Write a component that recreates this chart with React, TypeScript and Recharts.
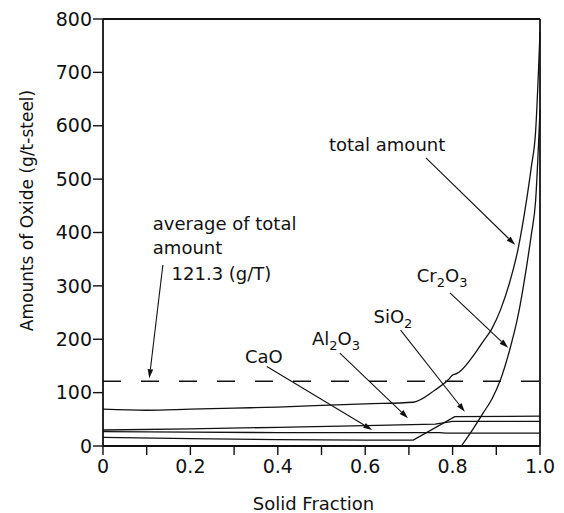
import { LineChart, Line, XAxis, YAxis, ReferenceLine, ReferenceDot } from "recharts";

// solid fraction ticks (every 0.1, labels on even tenths) and oxide amount ticks
const xTicks = [0, 0.1, 0.2, 0.3, 0.4, 0.5, 0.6, 0.7, 0.8, 0.9, 1.0];
const yTicks = [0, 100, 200, 300, 400, 500, 600, 700, 800];

// amounts of oxide (g/t-steel) vs solid fraction
const totalX = [0, 0.1, 0.2, 0.3, 0.4, 0.5, 0.6, 0.71, 0.76, 0.79, 0.8, 0.81, 0.82, 0.85, 0.87, 0.89, 0.91, 0.93, 0.95, 0.97, 0.98, 0.99, 1.0];
const totalY = [69, 67, 69, 71, 73, 76, 79, 82, 105, 124, 133, 136, 142, 172, 196, 220, 256, 305, 370, 465, 522, 590, 775];

const cr2o3X = [0.82, 0.85, 0.87, 0.89, 0.91, 0.93, 0.95, 0.97, 0.98, 0.99, 1.0];
const cr2o3Y = [0, 36, 62, 88, 125, 178, 245, 340, 395, 460, 630];

const sio2X = [0, 0.2, 0.4, 0.6, 0.71, 0.805, 1.0];
const sio2Y = [16, 14, 12, 11, 11, 55, 56];

const al2o3X = [0, 0.2, 0.4, 0.6, 0.76, 0.8, 1.0];
const al2o3Y = [30, 32, 35, 38, 41, 46, 46];

const caoX = [0, 0.2, 0.4, 0.6, 0.77, 0.785, 1.0];
const caoY = [27, 26, 25, 25, 25, 24, 24];

const averageTotal = 121.3;

// annotation texts (left edge / vertical centre, in data units)
const noteText = ["total amount", "average of total", "amount", "121.3 (g/T)", "Cr2O3", "SiO2", "Al2O3", "CaO"];
const noteX = [0.517, 0.114, 0.114, 0.157, 0.718, 0.619, 0.478, 0.325];
const noteY = [564, 416, 371, 324, 320, 242, 202, 167];
const noteChem = [false, false, false, false, true, true, true, true];

// pointer arrows: from -> to
const arrowFromX = [0.739, 0.137, 0.794, 0.681, 0.542, 0.375];
const arrowFromY = [540, 339, 287, 217, 174, 149];
const arrowToX = [0.943, 0.106, 0.927, 0.828, 0.698, 0.616];
const arrowToY = [377, 127, 184, 64, 52, 30];

const toPoints = (xs: number[], ys: number[]) => xs.map((x, i) => ({ x, y: ys[i] }));

const FONT = "'DejaVu Sans', sans-serif";
const INK = "#111";

const fmtX = (v: number) => {
  const i = Math.round(v * 10);
  if (i % 2) return "";
  return i === 0 ? "0" : v.toFixed(1);
};

const Arrow = (props: any) => {
  const { x1, y1, x2, y2 } = props;
  const a = Math.atan2(y2 - y1, x2 - x1);
  const len = 9;
  const hw = 2.8;
  const bx = x2 - len * Math.cos(a);
  const by = y2 - len * Math.sin(a);
  const pts = [
    `${x2},${y2}`,
    `${bx + hw * Math.sin(a)},${by - hw * Math.cos(a)}`,
    `${bx - hw * Math.sin(a)},${by + hw * Math.cos(a)}`,
  ].join(" ");
  return (
    <g>
      <line x1={x1} y1={y1} x2={bx} y2={by} stroke={INK} strokeWidth={1.1} />
      <polygon points={pts} fill={INK} />
    </g>
  );
};

const renderChem = (s: string) => {
  const parts = s.match(/\d+|\D+/g) || [];
  let sub = false;
  return parts.map((p, i) => {
    const isNum = /^\d+$/.test(p);
    const dy = isNum && !sub ? 5 : !isNum && sub ? -5 : 0;
    sub = isNum;
    return (
      <tspan key={i} dy={dy} fontSize={isNum ? 13 : 18}>
        {p}
      </tspan>
    );
  });
};

const Note = ({ cx, cy, text, chem }: any) => (
  <text x={cx} y={cy + 6.5} fontFamily={FONT} fontSize={18} fill={INK}>
    {chem ? renderChem(text) : text}
  </text>
);

const YTitle = ({ viewBox }: any) => {
  const x = viewBox.x + 27;
  const y = viewBox.y + viewBox.height / 2 - 22;
  return (
    <text x={x} y={y} transform={`rotate(-90 ${x} ${y})`} textAnchor="middle" dominantBaseline="central" fontFamily={FONT} fontSize={17} fill={INK}>
      Amounts of Oxide (g/t-steel)
    </text>
  );
};

const XTitle = ({ viewBox }: any) => (
  <text x={viewBox.x + viewBox.width / 2 - 8} y={viewBox.y + 57} textAnchor="middle" dominantBaseline="central" fontFamily={FONT} fontSize={18} fill={INK}>
    Solid Fraction
  </text>
);

const axisLine = { stroke: INK, strokeWidth: 1.8 };
const tickLine = { stroke: INK, strokeWidth: 1.4 };
const tickFont = { fill: INK, fontFamily: FONT, fontSize: 19 };

const series = [
  { name: "total amount", xs: totalX, ys: totalY, type: "monotoneX" },
  { name: "Cr2O3", xs: cr2o3X, ys: cr2o3Y, type: "monotoneX" },
  { name: "SiO2", xs: sio2X, ys: sio2Y, type: "linear" },
  { name: "Al2O3", xs: al2o3X, ys: al2o3Y, type: "linear" },
  { name: "CaO", xs: caoX, ys: caoY, type: "linear" },
];

export default function App() {
  return (
    <div style={{ position: "absolute", left: 0, top: 0, background: "#fff" }}>
      <LineChart width={564} height={513} margin={{ top: 9, right: 10, bottom: 27, left: 0 }}>
        <XAxis
          xAxisId="b"
          type="number"
          dataKey="x"
          domain={[0, 1]}
          ticks={xTicks}
          tickFormatter={fmtX}
          height={40}
          tickSize={9}
          tickMargin={5}
          axisLine={axisLine}
          tickLine={tickLine}
          tick={tickFont}
          interval={0}
          label={{ content: XTitle }}
        />
        <XAxis
          xAxisId="t"
          orientation="top"
          type="number"
          dataKey="x"
          domain={[0, 1]}
          ticks={xTicks}
          tickFormatter={() => ""}
          height={10}
          tickSize={8}
          axisLine={axisLine}
          tickLine={tickLine}
          interval={0}
        />
        <YAxis
          yAxisId="l"
          type="number"
          domain={[0, 800]}
          ticks={yTicks}
          width={103}
          tickSize={10}
          tickMargin={1}
          axisLine={axisLine}
          tickLine={tickLine}
          tick={tickFont}
          interval={0}
          label={{ content: YTitle }}
        />
        <YAxis
          yAxisId="r"
          orientation="right"
          type="number"
          domain={[0, 800]}
          ticks={yTicks}
          tickFormatter={() => ""}
          width={14}
          tickSize={10}
          axisLine={axisLine}
          tickLine={tickLine}
          interval={0}
        />
        <ReferenceLine xAxisId="b" yAxisId="l" y={averageTotal} stroke={INK} strokeWidth={1.4} strokeDasharray="18 20" />
        {series.map((s) => (
          <Line
            key={s.name}
            xAxisId="b"
            yAxisId="l"
            data={toPoints(s.xs, s.ys)}
            dataKey="y"
            name={s.name}
            type={s.type as any}
            stroke={INK}
            strokeWidth={1.3}
            dot={false}
            activeDot={false}
            isAnimationActive={false}
          />
        ))}
        {arrowFromX.map((fx, i) => (
          <ReferenceLine
            key={`arrow-${i}`}
            xAxisId="b"
            yAxisId="l"
            segment={[
              { x: fx, y: arrowFromY[i] },
              { x: arrowToX[i], y: arrowToY[i] },
            ]}
            shape={Arrow}
          />
        ))}
        {noteText.map((t, i) => (
          <ReferenceDot
            key={`note-${i}`}
            xAxisId="b"
            yAxisId="l"
            x={noteX[i]}
            y={noteY[i]}
            r={0}
            shape={(p: any) => <Note cx={p.cx} cy={p.cy} text={t} chem={noteChem[i]} />}
          />
        ))}
      </LineChart>
    </div>
  );
}
